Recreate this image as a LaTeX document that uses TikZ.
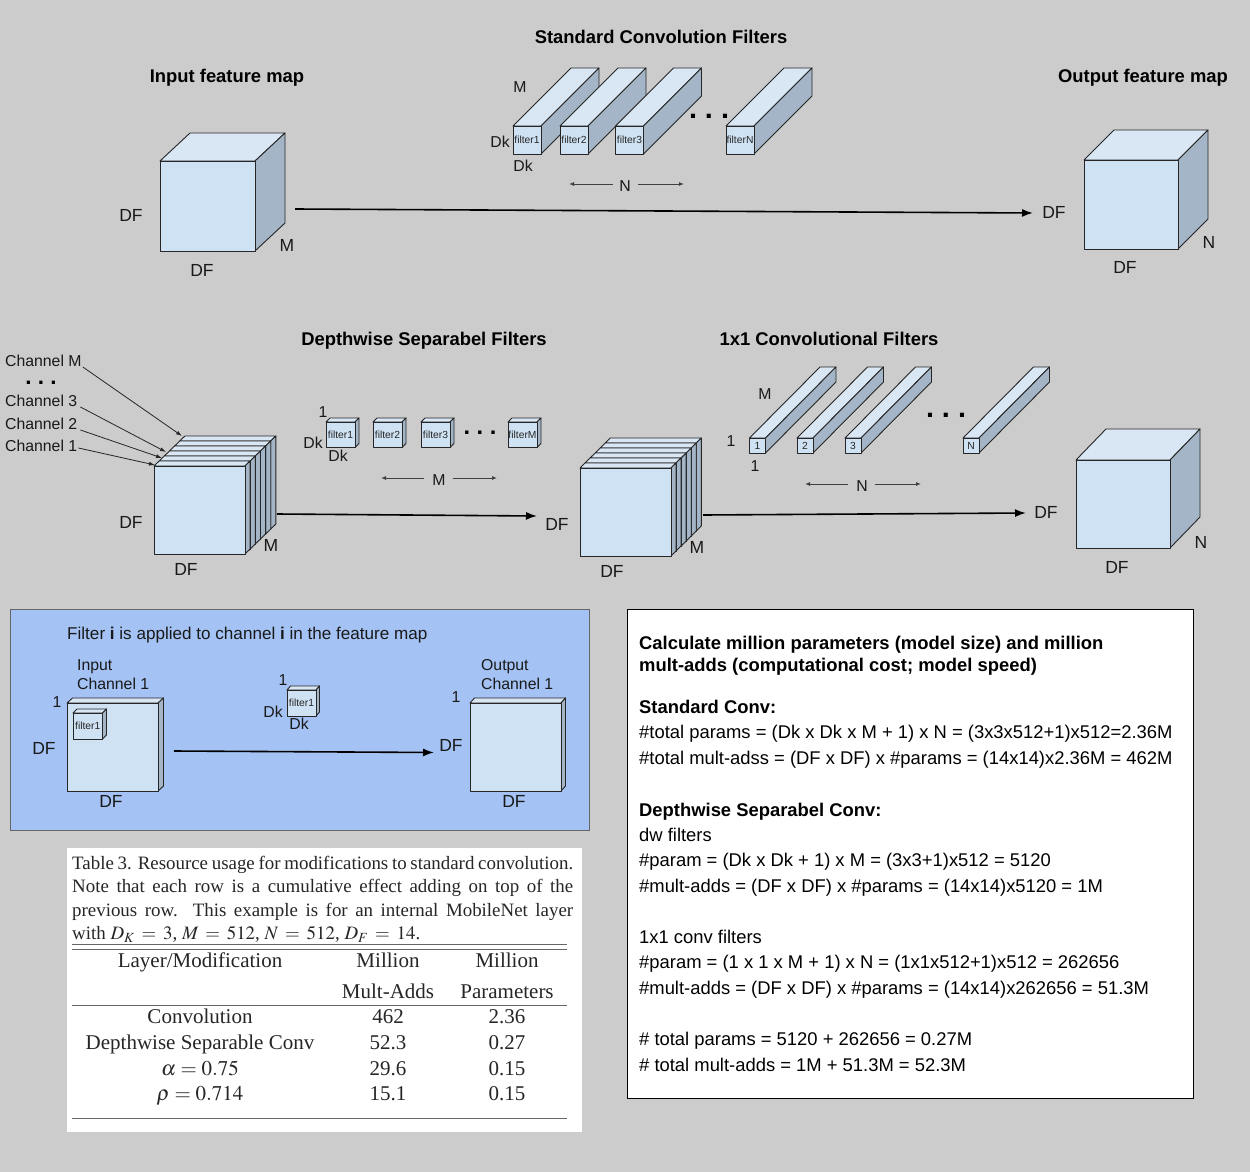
\documentclass[tikz,border=0pt]{standalone}
\usepackage{mathptmx}
\usepackage[no-math]{fontspec}
\setmainfont{Liberation Sans}
\newfontfamily\tablefont{Liberation Serif}
\usepackage{tikz}
\usetikzlibrary{arrows.meta}
\definecolor{pagegray}{HTML}{CCCCCC}
\definecolor{boxfront}{HTML}{CFE2F3}
\definecolor{boxtop}{HTML}{D9E7F5}
\definecolor{boxside}{HTML}{A3B5C6}
\definecolor{panelblue}{HTML}{A4C2F4}
\newcommand{\fpx}[1]{\fontsize{#1}{#1}\selectfont}
% name, x, y, width, height, depth x, depth y, text
\newcommand{\cuboid}[8]{
    \draw[face,fill=boxtop] (#2,#3) -- ++(#6,-#7) -- ++(#4,0) -- ++(-#6,#7) -- cycle;
    \draw[face,fill=boxside] (#2+#4,#3) -- ++(#6,-#7) -- ++(0,#5) -- ++(-#6,#7) -- cycle;
    \node[frontface,minimum width=#4pt,minimum height=#5pt] (#1) at (#2,#3) {#8};
}
\begin{document}
\begin{tikzpicture}[x=1pt,y=-1pt,
    face/.style={draw=black!85,line width=0.9pt,line join=round},
    frontface/.style={face,fill=boxfront,anchor=north west,inner sep=0pt,outer sep=0pt,font=\fpx{10.3},text=black!85},
    lbl/.style={font=\fpx{17.5},inner sep=0pt,text=black!90,text height=12.5pt,text depth=0pt},
    small/.style={font=\fpx{15.8},inner sep=0pt,text=black!90,text height=11.3pt,text depth=0pt},
    title/.style={font=\bfseries\fpx{18.4},inner sep=0pt,text height=13.2pt,text depth=0pt},
    dotsrow/.style={font=\bfseries\fpx{#1},inner sep=0pt},
    flow/.style={-{Latex[length=11pt,width=8pt]},line width=1.6pt},
    dimline/.style={-{Latex[length=5pt,width=4pt]},line width=1pt,black!75},
    chanline/.style={-{Latex[length=6pt,width=4pt]},line width=0.8pt,black!85},
    panelline/.style={font=\fpx{18.4},inner sep=0pt,anchor=west,text height=13.2pt,text depth=0pt},
    tabletext/.style={font=\tablefont\fpx{21},inner sep=0pt,text=black!85,text height=14pt,text depth=0pt},
    tablerule/.style={line width=0.9pt,black!60}]
    \useasboundingbox (0,0) rectangle (1250,1172);
    \fill[pagegray] (0,0) rectangle (1250,1172);

    % standard convolution
    \node[title] (inputTitle) at (227,76) {Input feature map};
    \node[title] (stdTitle) at (661,37) {Standard Convolution Filters};
    \node[title] (outputTitle) at (1143,76) {Output feature map};
    \cuboid{inCube}{160}{161}{95}{90}{30}{28}{}
    \cuboid{outCube}{1084}{160}{94}{89}{30}{30}{}
    \cuboid{stdA}{513}{126}{28}{28}{58}{58}{filter1}
    \cuboid{stdB}{560}{126}{28}{28}{58}{58}{filter2}
    \cuboid{stdC}{615.5}{126}{28}{28}{58}{58}{filter3}
    \cuboid{stdLast}{726}{126}{28}{28}{58}{58}{filterN}
    \node[dotsrow=28.8] (stdDots) at (709,116) {.\ .\ .};
    \node[small] (stdM) at (520,87) {M};
    \node[small] (stdDkA) at (500,142) {Dk};
    \node[small] (stdDkB) at (523,166) {Dk};
    \node[small] (stdN) at (625,186) {N};
    \coordinate (stdLeft) at (569,184);
    \coordinate (stdRight) at (684,184);
    \draw[dimline] (stdN.west)+(-6,-2) -- (stdLeft);
    \draw[dimline] (stdN.east)+(7,-2) -- (stdRight);
    \node[lbl] (inDfA) at (131,215) {DF};
    \node[lbl] (inDfB) at (202,270) {DF};
    \node[lbl] (inM) at (287,245) {M};
    \node[lbl] (outDfA) at (1054,212) {DF};
    \node[lbl] (outDfB) at (1125,267) {DF};
    \node[lbl] (outN) at (1209,242) {N};
    \coordinate (stdFrom) at (295,209);
    \coordinate (stdTo) at (1033,213);
    \draw[flow] (stdFrom) -- (stdTo);

    % depthwise separable and 1x1
    \node[title] (dwTitle) at (424,339) {Depthwise Separabel Filters};
    \node[title] (oneTitle) at (829,339) {1x1 Convolutional Filters};
    \foreach \k in {5,4,3,2,1,0} {
        \cuboid{stackA\k}{154+5.15*\k}{466-5*\k}{91}{88}{5.15}{5}{}
        \cuboid{stackB\k}{580+5.05*\k}{468-5*\k}{91}{88}{5.05}{5}{}
    }
    \cuboid{endCube}{1076}{460}{94}{88}{30}{31}{}
    \node[small,anchor=west] (chanM) at (5,361) {Channel M};
    \node[dotsrow=22.5] (chanDots) at (41,383) {.\ .\ .};
    \node[small,anchor=west] (chanC) at (5,401) {Channel 3};
    \node[small,anchor=west] (chanB) at (5,424) {Channel 2};
    \node[small,anchor=west] (chanA) at (5,446) {Channel 1};
    \coordinate (toChanM) at (182,436);
    \coordinate (toChanC) at (166,452);
    \coordinate (toChanB) at (162,458);
    \coordinate (toChanA) at (155,465);
    \draw[chanline] (chanM.east)+(1,6) -- (toChanM);
    \draw[chanline] (chanC.east)+(3,6) -- (toChanC);
    \draw[chanline] (chanB.east)+(3,6) -- (toChanB);
    \draw[chanline] (chanA.east)+(1,2) -- (toChanA);
    \cuboid{dwA}{326}{422}{29}{25.5}{4}{4}{filter1}
    \cuboid{dwB}{373}{422}{29}{25.5}{4}{4}{filter2}
    \cuboid{dwC}{421}{422}{29}{25.5}{4}{4}{filter3}
    \cuboid{dwLast}{508}{422}{29}{25.5}{4}{4}{filterM}
    \node[dotsrow=23.5] (dwDots) at (480,433) {.\ .\ .};
    \node[small] (dwOne) at (323,412) {1};
    \node[small] (dwDkA) at (313,443) {Dk};
    \node[small] (dwDkB) at (338,456) {Dk};
    \node[small] (dwM) at (439,480) {M};
    \coordinate (dwLeft) at (381,478);
    \coordinate (dwRight) at (497,478);
    \draw[dimline] (dwM.west)+(-8,-2) -- (dwLeft);
    \draw[dimline] (dwM.east)+(7,-2) -- (dwRight);
    \cuboid{oneA}{749.5}{438}{16}{15}{70.5}{71}{1}
    \cuboid{oneB}{797}{438}{16}{15}{70.5}{71}{2}
    \cuboid{oneC}{845}{438}{16}{15}{70.5}{71}{3}
    \cuboid{oneLast}{963}{438}{16}{15}{70.5}{71}{N}
    \node[dotsrow=28.8] (oneDots) at (946,415) {.\ .\ .};
    \node[small] (oneM) at (765,394) {M};
    \node[small] (oneOneA) at (731,441) {1};
    \node[small] (oneOneB) at (755,466) {1};
    \node[small] (oneN) at (862,486) {N};
    \coordinate (oneLeft) at (805,484);
    \coordinate (oneRight) at (921,484);
    \draw[dimline] (oneN.west)+(-8,-2) -- (oneLeft);
    \draw[dimline] (oneN.east)+(7,-2) -- (oneRight);
    \node[lbl] (stackDfA) at (131,522) {DF};
    \node[lbl] (stackDfB) at (186,569) {DF};
    \node[lbl] (stackM) at (271,545) {M};
    \node[lbl] (midDfA) at (557,524) {DF};
    \node[lbl] (midDfB) at (612,571) {DF};
    \node[lbl] (midM) at (697,547) {M};
    \node[lbl] (endDfA) at (1046,512) {DF};
    \node[lbl] (endDfB) at (1117,567) {DF};
    \node[lbl] (endN) at (1201,542) {N};
    \coordinate (dwFrom) at (277,514);
    \coordinate (dwTo) at (537,516);
    \coordinate (oneFrom) at (703,515);
    \coordinate (oneTo) at (1026,513);
    \draw[flow] (dwFrom) -- (dwTo);
    \draw[flow] (oneFrom) -- (oneTo);

    % blue panel
    \draw[fill=panelblue,draw=black!60,line width=0.9pt] (10,609) rectangle (589,830);
    \node[small,anchor=west,font=\fpx{17.1}] (blueTitle) at (67,634) {Filter \textbf{i} is applied to channel \textbf{i} in the feature map};
    \node[small,anchor=west] (blueInA) at (77,665) {Input};
    \node[small,anchor=west] (blueInB) at (77,684) {Channel 1};
    \node[small,anchor=west] (blueOutA) at (481,665) {Output};
    \node[small,anchor=west] (blueOutB) at (481,684) {Channel 1};
    \cuboid{blueIn}{67}{703}{91}{88}{5.5}{5}{}
    \cuboid{blueInner}{73}{713}{29.5}{26}{4}{4}{filter1}
    \cuboid{blueFilter}{287}{690}{29}{26}{3.5}{4}{filter1}
    \cuboid{blueOut}{470}{703}{91}{88}{4.5}{5}{}
    \node[small] (blueOneA) at (57,702) {1};
    \node[small] (blueOneB) at (283,680) {1};
    \node[small] (blueOneC) at (456,697) {1};
    \node[small] (blueDkA) at (273,712) {Dk};
    \node[small] (blueDkB) at (299,724) {Dk};
    \node[lbl] (blueDfA) at (44,748) {DF};
    \node[lbl] (blueDfB) at (111,801) {DF};
    \node[lbl] (blueDfC) at (451,745) {DF};
    \node[lbl] (blueDfD) at (514,801) {DF};
    \coordinate (blueFrom) at (174,751);
    \coordinate (blueTo) at (434,752.5);
    \draw[flow] (blueFrom) -- (blueTo);

    % table
    \fill[white] (67,848) rectangle (582,1132);
    \node[inner sep=0pt,text=black!85,anchor=north west,text width=501pt,align=justify,font=\tablefont\fontsize{18.9}{23.4}\selectfont] (tableCaption) at (72,856)
        {Table 3. Resource usage for modifications to standard convolution.\linebreak Note that each row is a cumulative effect adding on top of the\linebreak previous row.\ \ This example is for an internal MobileNet layer\linebreak with $D_K\:=\:3$, $M\:=\:512$, $N\:=\:512$, $D_F\:=\:14$.};
    \foreach \ruley in {944,949,1005,1118} {
        \draw[tablerule] (72,\ruley) -- (567,\ruley);
    }
    \foreach \i/\rowy/\lay/\mul/\prm in {
        a/960/Layer\slash Modification/Million/Million,
        b/991//Mult-Adds/Parameters,
        c/1016/Convolution/462/2.36,
        d/1042/Depthwise Separable Conv/52.3/0.27,
        e/1068/$\alpha=0.75$/29.6/0.15,
        f/1093/$\rho=0.714$/15.1/0.15} {
        \node[tabletext] (lay\i) at (200,\rowy) {\lay};
        \node[tabletext] (mul\i) at (388,\rowy) {\mul};
        \node[tabletext] (prm\i) at (507,\rowy) {\prm};
    }

    % white panel
    \draw[fill=white,draw=black,line width=0.8pt] (627,609) rectangle (1193,1098);
    \foreach \i/\liney/\linetxt in {
        a/643/Calculate million parameters (model size) and million,
        b/665/mult-adds (computational cost; model speed),
        c/707/Standard Conv:,
        d/810/Depthwise Separabel Conv:} {
        \node[panelline,font=\bfseries\fpx{18.4}] (head\i) at (639,\liney) {\linetxt};
    }
    \foreach \i/\liney/\linetxt in {
        a/732/\#total params = (Dk x Dk x M + 1) x N = (3x3x512+1)x512=2.36M,
        b/758/\#total mult-adss = (DF x DF) x \#params = (14x14)x2.36M = 462M,
        c/835/dw filters,
        d/860/\#param = (Dk x Dk + 1) x M = (3x3+1)x512 = 5120,
        e/886/\#mult-adds = (DF x DF) x \#params = (14x14)x5120 = 1M,
        f/937/1x1 conv filters,
        g/962/\#param = (1 x 1 x M + 1) x N = (1x1x512+1)x512 = 262656,
        h/988/\#mult-adds = (DF x DF) x \#params = (14x14)x262656 = 51.3M,
        i/1039/\# total params = 5120 + 262656 = 0.27M,
        j/1065/\# total mult-adds = 1M + 51.3M = 52.3M} {
        \node[panelline] (line\i) at (639,\liney) {\linetxt};
    }
\end{tikzpicture}
\end{document}
